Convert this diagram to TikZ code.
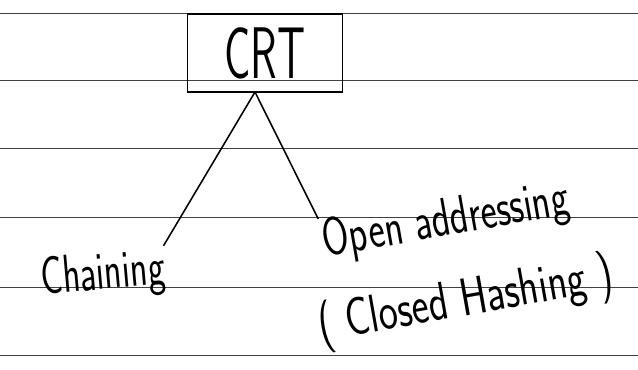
\documentclass[tikz,border=0pt]{standalone}
\usepackage{graphicx}
\usetikzlibrary{positioning}
\newcommand{\hw}[2][0.7]{\scalebox{#1}[1]{#2}}
\tikzset{
  ruled/.style={black!75, line width=0.6pt},
  hand/.style={font=\sffamily\fontsize{38}{42}\selectfont, inner sep=0pt},
  crtbox/.style={draw, line width=1.3pt, minimum width=3.875cm, minimum height=1.95cm, font=\sffamily\fontsize{52}{56}\selectfont},
}
\begin{document}
\begin{tikzpicture}[x=0.025cm,y=-0.025cm, line width=1.1pt]
        \useasboundingbox (0,0) rectangle (638,369);
        % ruled paper
        \foreach \y in {13,80,148,217,287,355}
          \draw[ruled] (0,\y) -- (638,\y);

        \node[crtbox] (crt) at (265,53) {\hw[0.6]{CRT}};
        \coordinate (apex) at (255,92);

        \node[hand, rotate=5] (chain) at (103,276) {\hw[0.68]{Chaining}};
        \node[hand, rotate=10] (open) at (446,222) {\hw[0.72]{Open addressing}};
        \node[hand, rotate=10] (closed) at (466,302) {\hw[0.76]{( Closed Hashing )}};

        \draw (apex) -- (chain.north east);
        \draw (apex) -- (open.north west);
      \end{tikzpicture}
\end{document}
